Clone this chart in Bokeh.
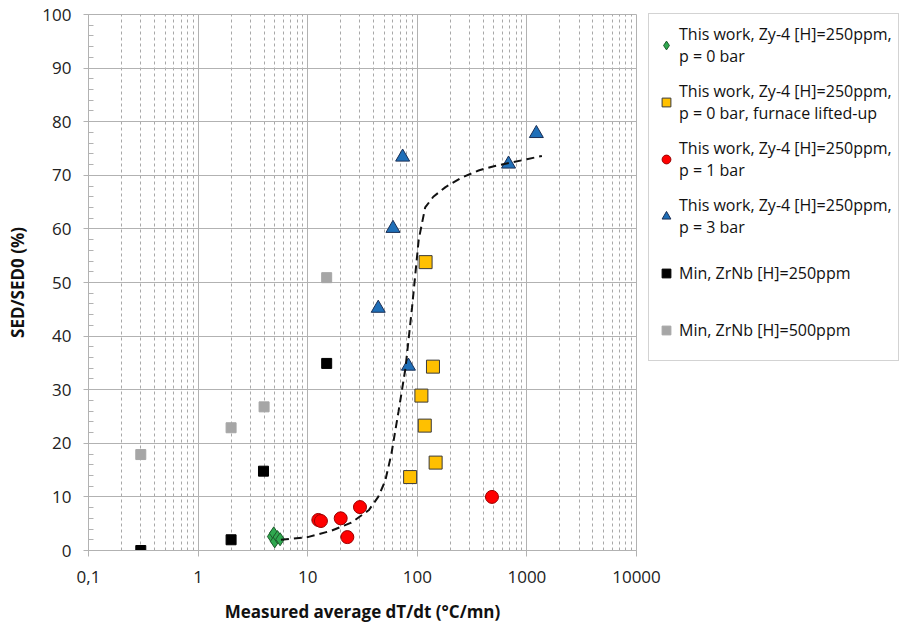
import math
from bokeh.plotting import figure
from bokeh.models import FixedTicker, Legend, LegendItem
from bokeh.embed import file_html
from bokeh.resources import INLINE

# ---- axis ticks ----
x_ticks = [0.1, 1, 10, 100, 1000, 10000]
x_tick_labels = ["0,1", "1", "10", "100", "1000", "10000"]
y_ticks = [0, 10, 20, 30, 40, 50, 60, 70, 80, 90, 100]
y_tick_labels = ["0", "10", "20", "30", "40", "50", "60", "70", "80", "90", "100"]

# ---- series ----
p0_x = [4.7, 4.9, 5.0, 5.3, 5.6]
p0_y = [2.6, 3.2, 1.7, 2.5, 2.1]

lift_x = [86, 109, 117, 119, 139, 147]
lift_y = [13.7, 28.9, 23.3, 53.8, 34.3, 16.4]

p1_x = [12.5, 13.2, 20, 23, 30, 480]
p1_y = [5.7, 5.5, 6.0, 2.5, 8.1, 10.0]

p3_x = [44, 60, 73.5, 83, 680, 1220]
p3_y = [45.2, 60.1, 73.4, 34.4, 72.1, 77.8]

min250_x = [0.3, 2.0, 3.95, 14.9]
min250_y = [0.0, 2.0, 14.8, 34.9]

min500_x = [0.3, 2.0, 4.0, 14.9]
min500_y = [17.9, 22.9, 26.8, 50.9]

trend_x = [5.7, 10, 16.5, 25, 36, 44, 51, 58, 67.5, 78, 89.6, 96, 103, 118, 140, 181, 250, 362, 500, 730, 1000, 1370]
trend_y = [2.0, 2.5, 3.7, 5.2, 7.5, 10, 13, 18, 26, 34, 45.4, 51.6, 58, 64, 66, 67.8, 69.5, 70.9, 71.7, 72.4, 73.0, 73.6]

labels = [
    "This work, Zy-4 [H]=250ppm,\np = 0 bar",
    "This work, Zy-4 [H]=250ppm,\np = 0 bar, furnace lifted-up",
    "This work, Zy-4 [H]=250ppm,\np = 1 bar",
    "This work, Zy-4 [H]=250ppm,\np = 3 bar",
    "Min, ZrNb [H]=250ppm",
    "Min, ZrNb [H]=500ppm",
]

FONT = "Open Sans"
GRID = "#b2b2b2"

p = figure(
    x_axis_type="log",
    x_range=(0.1, 10000),
    y_range=(0, 100),
    frame_width=548,
    frame_height=536,
    min_border_left=88,
    min_border_right=267,
    min_border_top=14,
    min_border_bottom=75,
    output_backend="svg",
    toolbar_location=None,
    x_axis_label="Measured average dT/dt (°C/mn)",
    y_axis_label="SED/SED0 (%)",
)
p.background_fill_color = "white"
p.border_fill_color = "white"
p.outline_line_color = GRID

minor_x = [m * d for d in x_ticks[:-1] for m in range(2, 10)]
p.xaxis.ticker = FixedTicker(ticks=x_ticks, minor_ticks=minor_x)
p.yaxis.ticker = FixedTicker(ticks=y_ticks, minor_ticks=list(range(0, 101, 2)))
p.xaxis.major_label_overrides = {t: s for t, s in zip(x_ticks, x_tick_labels)}
p.yaxis.major_label_overrides = {t: s for t, s in zip(y_ticks, y_tick_labels)}

for ax in (p.xaxis[0], p.yaxis[0]):
    ax.axis_line_color = GRID
    ax.major_tick_line_color = GRID
    ax.minor_tick_line_color = GRID
    ax.major_label_text_font = FONT
    ax.major_label_text_font_size = "17px"
    ax.major_label_text_color = "#222222"
    ax.axis_label_text_font = FONT
    ax.axis_label_text_font_size = "17px"
    ax.axis_label_text_font_style = "bold"
    ax.axis_label_text_color = "#111111"

p.xaxis.major_tick_in = 0
p.xaxis.major_tick_out = 6
p.xaxis.minor_tick_line_color = None
p.xaxis.major_label_standoff = 14
p.xaxis.axis_label_standoff = 14

p.yaxis.major_tick_in = 0
p.yaxis.major_tick_out = 5
p.yaxis.minor_tick_in = 5
p.yaxis.minor_tick_out = 0
p.yaxis.major_label_standoff = 12
p.yaxis.axis_label_standoff = 10

p.xgrid.grid_line_color = GRID
p.xgrid.minor_grid_line_color = "#a8a8a8"
p.xgrid.minor_grid_line_dash = "3 3"
p.ygrid.grid_line_color = GRID
p.ygrid.minor_grid_line_color = None

r6 = p.scatter(min500_x, min500_y, marker="square", size=10, fill_color="#a6a6a6", line_color="#a6a6a6")
r5 = p.scatter(min250_x, min250_y, marker="square", size=10, fill_color="#000000", line_color="#000000")
r2 = p.scatter(lift_x, lift_y, marker="square", size=13, fill_color="#ffc000", line_color="#3a3a3a", line_width=1)
r3 = p.scatter(p1_x, p1_y, marker="circle", size=13, fill_color="#ff0000", line_color="#9a0000", line_width=1)
r4 = p.scatter(p3_x, p3_y, marker="triangle", size=14, fill_color="#1f6fb8", line_color="#1b2f55", line_width=1)
r1 = p.scatter(p0_x, p0_y, marker="diamond", size=13, fill_color="#2fa84f", line_color="#1d5a2c", line_width=1)
p.line(trend_x, trend_y, line_color="#111111", line_width=2, line_dash="8 5")

items = [LegendItem(label=l, renderers=[r]) for l, r in zip(labels, [r1, r2, r3, r4, r5, r6])]
legend = Legend(
    items=items,
    location=(12, 189),
    orientation="vertical",
    padding=6,
    spacing=8,
    margin=0,
    glyph_width=22,
    glyph_height=24,
    label_height=49,
    label_standoff=2,
    label_text_font=FONT,
    label_text_font_size="16px",
    label_text_line_height=1.9,
    label_text_color="#111111",
    border_line_color="#a8a8a8",
    border_line_width=1,
    background_fill_color="white",
    background_fill_alpha=1.0,
)
p.add_layout(legend, "right")

open("out.html", "w").write(file_html(p, INLINE))
